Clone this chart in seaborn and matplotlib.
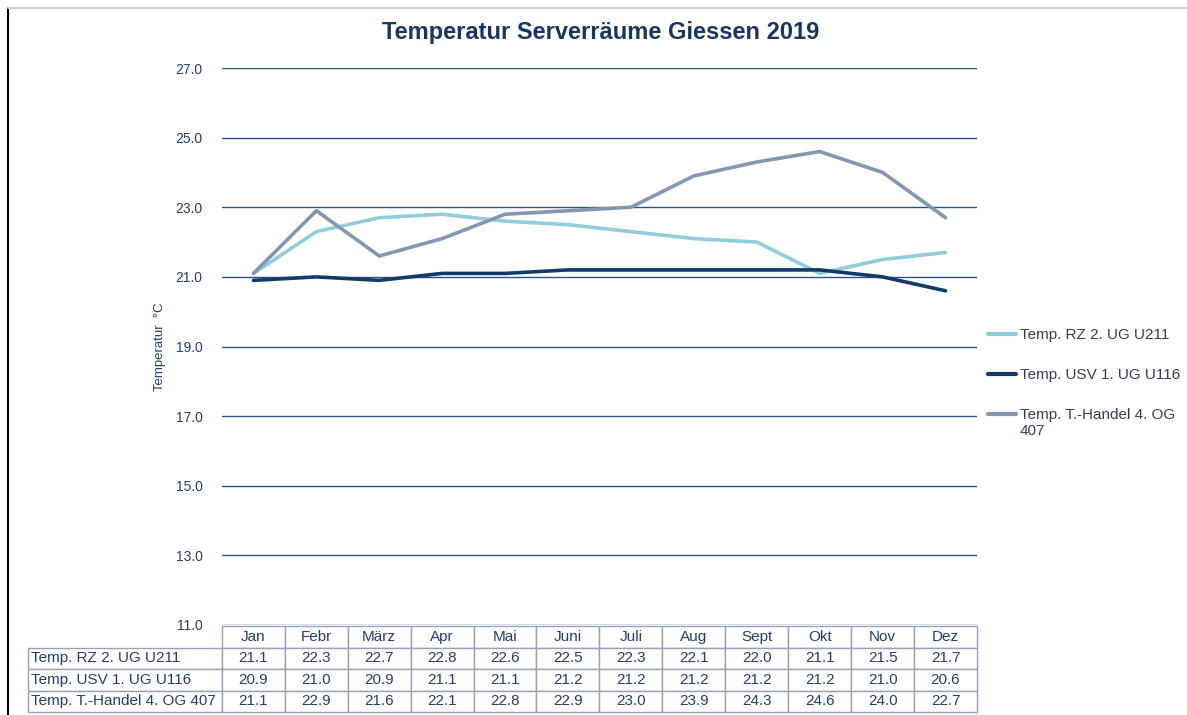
import numpy as np
import pandas as pd
import matplotlib
matplotlib.use("Agg")
import matplotlib.pyplot as plt
from matplotlib.lines import Line2D
import seaborn as sns

# Data (monthly mean temperatures)
months = ['Jan', 'Febr', 'März', 'Apr', 'Mai', 'Juni', 'Juli', 'Aug', 'Sept', 'Okt', 'Nov', 'Dez']
rz_u211 = [21.1, 22.3, 22.7, 22.8, 22.6, 22.5, 22.3, 22.1, 22.0, 21.1, 21.5, 21.7]
usv_u116 = [20.9, 21.0, 20.9, 21.1, 21.1, 21.2, 21.2, 21.2, 21.2, 21.2, 21.0, 20.6]
handel_407 = [21.1, 22.9, 21.6, 22.1, 22.8, 22.9, 23.0, 23.9, 24.3, 24.6, 24.0, 22.7]

series_names = ['Temp. RZ 2. UG U211', 'Temp. USV 1. UG U116', 'Temp. T.-Handel 4. OG 407']
colors = ['#92CDDC', '#123B6B', '#8497B0']

NAVY = '#17375E'
TEXT = '#243F6B'
GRID = '#2A5283'
LEG_TEXT = '#333F55'

sns.set_theme(style='white')
plt.rcParams['font.family'] = ['Liberation Sans', 'DejaVu Sans']

df = pd.DataFrame({
    'Monat': months * 3,
    'Temperatur': rz_u211 + usv_u116 + handel_407,
    'Raum': np.repeat(series_names, len(months)),
})

W, H = 1187, 715
fig = plt.figure(figsize=(W / 100, H / 100), dpi=100)
ax = fig.add_axes([222 / W, 1 - 625 / H, (977 - 222) / W, (625 - 68) / H])

sns.lineplot(data=df, x='Monat', y='Temperatur', hue='Raum', hue_order=series_names,
             palette=dict(zip(series_names, colors)), sort=False, linewidth=2.6,
             ax=ax, legend=False, zorder=3)

ax.set_xlim(-0.5, len(months) - 0.5)
ax.set_ylim(11, 27)
yt = np.arange(11, 28, 2)
ax.set_yticks(yt)
ax.set_yticklabels([f'{v:.1f}' for v in yt], color=TEXT, fontsize=10)
ax.tick_params(axis='y', length=0, pad=14)
ax.tick_params(axis='x', bottom=False, labelbottom=False)
ax.set_xlabel('')
ax.yaxis.grid(True, color=GRID, linewidth=1)
ax.xaxis.grid(False)
for s in ax.spines.values():
    s.set_visible(False)

ax.set_ylabel('Temperatur  °C', fontsize=9.5, color=TEXT)
ax.yaxis.set_label_coords((166 - 222) / 755, 0.5)

# legend to the right (last label wraps like the original)
handles = [Line2D([], [], color=c, linewidth=3) for c in colors]
leg_labels = series_names[:2] + ['Temp. T.-Handel 4. OG']
leg = ax.legend(handles, leg_labels, loc='upper left', bbox_to_anchor=(0.996, 0.558),
                frameon=False, fontsize=11, handlelength=1.85, handletextpad=0.26,
                labelspacing=1.7, labelcolor=LEG_TEXT)

# data table below the plot
cell_text = [[name] + [f'{v:.1f}' for v in vals]
             for name, vals in zip(series_names, [rz_u211, usv_u116, handel_407])]
col_w = [194] + [63] * len(months)
col_w = [w / sum(col_w) for w in col_w]
tbl = ax.table(cellText=cell_text, colLabels=[''] + months, colWidths=col_w,
               cellLoc='center', bbox=[(28 - 222) / 755, -87 / 557, (977 - 28) / 755, 86 / 557])
tbl.auto_set_font_size(False)
tbl.set_fontsize(11)
for (r, c), cell in tbl.get_celld().items():
    cell.set_edgecolor('#9AA0B8')
    cell.set_linewidth(1)
    cell.get_text().set_color(TEXT)
    if r == 0 and c == 0:
        cell.visible_edges = ''
        cell.set_facecolor('none')
    elif c == 0:
        cell.get_text().set_ha('left')
        cell.PAD = 0.015

fig.text(601 / W, 1 - 33 / H, 'Temperatur Serverräume Giessen 2019', ha='center', va='center',
         fontsize=17, fontweight='bold', color=NAVY)

# second line of the last legend label
fig.canvas.draw()
bb = leg.get_texts()[2].get_window_extent()
fig.text(bb.x0 / W, (bb.y0 - 2) / H, '407', ha='left', va='top', fontsize=11, color=LEG_TEXT)

# frame lines of the original sheet
fig.add_artist(Line2D([8 / W, 8 / W], [0, 1 - 8 / H], color='black', linewidth=1.5))
fig.add_artist(Line2D([8 / W, 1], [1 - 8 / H, 1 - 8 / H], color='#D0D0D0', linewidth=1.5))

fig.savefig('out.png', dpi=100)
